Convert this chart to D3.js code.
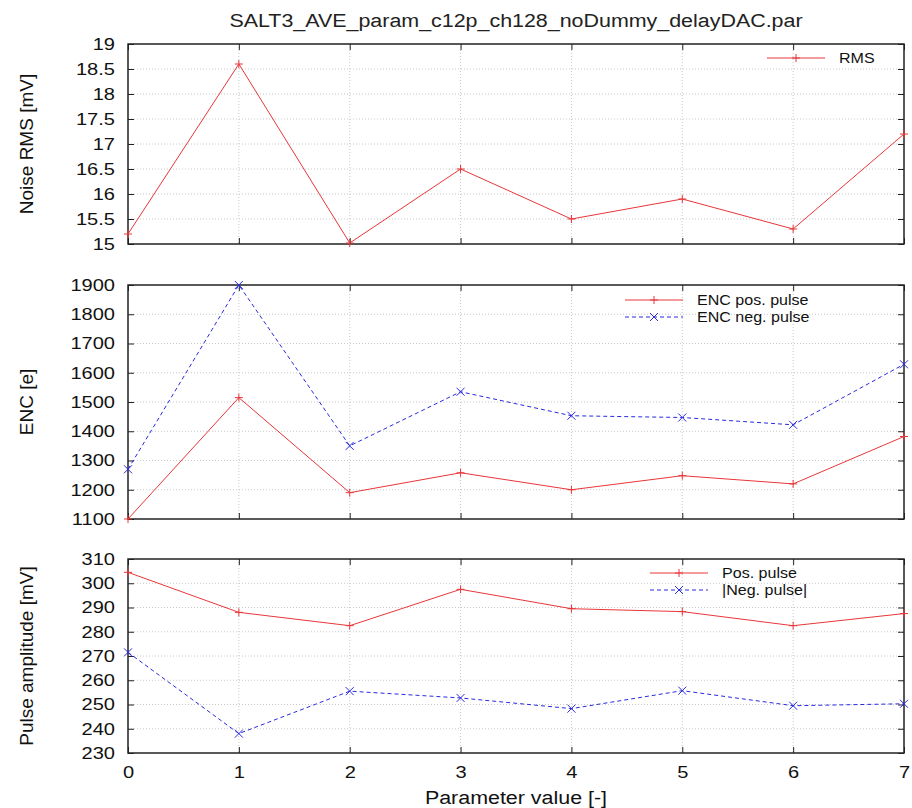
<!DOCTYPE html>
<html><head><meta charset="utf-8">
<script src="https://cdn.jsdelivr.net/npm/d3@7"></script>
<style>body{margin:0;background:#fff}svg{display:block}text{font-family:"Liberation Sans",Arial,sans-serif}</style>
</head><body>
<svg id="c" width="912" height="808"></svg>
<script>
const params = [0,1,2,3,4,5,6,7];
const rms = [15.2,18.6,15.02,16.5,15.5,15.9,15.3,17.2];
const encPos = [1100,1515,1190,1258,1200,1248,1220,1382];
const encNeg = [1270,1900,1350,1535,1453,1447,1422,1629];
const pulsePos = [304.5,288,282.5,297.5,289.5,288.3,282.5,287.5];
const pulseNeg = [271.5,238,255.5,252.7,248.3,255.7,249.5,250.3];
const rmsTicks = [15,15.5,16,16.5,17,17.5,18,18.5,19];
const encTicks = [1100,1200,1300,1400,1500,1600,1700,1800,1900];
const pulseTicks = [230,240,250,260,270,280,290,300,310];
const title = "SALT3_AVE_param_c12p_ch128_noDummy_delayDAC.par";
const xLabel = "Parameter value [-]";

const svg = d3.select("#c");
const L = 128, R = 904;
const x = d3.scaleLinear().domain([0,7]).range([L,R]);

function stretch(sel, k){
  sel.each(function(){
    const l = this.getComputedTextLength();
    if(l>0){ this.setAttribute("textLength", l*k); this.setAttribute("lengthAdjust","spacingAndGlyphs"); }
  });
}

svg.append("text").attr("x",516).attr("y",27).attr("text-anchor","middle")
  .attr("font-size",18).attr("fill","#222").text(title).call(stretch,1.19);

const panels = [
  {top:44,bot:244,dom:[15,19],ticks:rmsTicks,fmt:d=>String(d),label:"Noise RMS [mV]",
   series:[{v:rms,color:"#e8363a",dash:null,sym:"plus",name:"RMS"}],
   legX:767,legY:58,legTx:839},
  {top:285,bot:519,dom:[1100,1900],ticks:encTicks,fmt:d=>String(d),label:"ENC [e]",
   series:[{v:encPos,color:"#e8363a",dash:null,sym:"plus",name:"ENC pos. pulse"},
           {v:encNeg,color:"#2a2ae0",dash:"4,3",sym:"cross",name:"ENC neg. pulse"}],
   legX:625,legY:300,legTx:697},
  {top:559,bot:753,dom:[230,310],ticks:pulseTicks,fmt:d=>String(d),label:"Pulse amplitude [mV]",
   series:[{v:pulsePos,color:"#e8363a",dash:null,sym:"plus",name:"Pos. pulse"},
           {v:pulseNeg,color:"#2a2ae0",dash:"4,3",sym:"cross",name:"|Neg. pulse|"}],
   legX:650,legY:573,legTx:722}
];

function marker(g, cx, cy, sym, color){
  const s = 4;
  if(sym==="plus"){
    g.append("path").attr("d",`M${cx-s},${cy}H${cx+s}M${cx},${cy-s}V${cy+s}`)
     .attr("stroke",color).attr("stroke-width",1);
  } else {
    g.append("path").attr("d",`M${cx-s},${cy-s}L${cx+s},${cy+s}M${cx-s},${cy+s}L${cx+s},${cy-s}`)
     .attr("stroke",color).attr("stroke-width",1);
  }
}

panels.forEach((p,pi)=>{
  const y = d3.scaleLinear().domain(p.dom).range([p.bot,p.top]);
  const g = svg.append("g");
  p.ticks.slice(1,-1).forEach(t=>{
    g.append("line").attr("x1",L).attr("x2",R).attr("y1",y(t)).attr("y2",y(t))
     .attr("stroke","#c8c8c8").attr("stroke-width",1).attr("stroke-dasharray","1,2");
  });
  params.slice(1,-1).forEach(t=>{
    g.append("line").attr("x1",x(t)).attr("x2",x(t)).attr("y1",p.top).attr("y2",p.bot)
     .attr("stroke","#c8c8c8").attr("stroke-width",1).attr("stroke-dasharray","1,2");
  });
  const ay = g.append("g").attr("transform",`translate(${L},0)`)
    .call(d3.axisLeft(y).tickValues(p.ticks).tickFormat(p.fmt).tickSize(-6).tickPadding(13));
  ay.select(".domain").remove();
  ay.selectAll("text").attr("font-size",17).attr("fill","#111").attr("font-family","Liberation Sans, Arial, sans-serif").call(stretch,1.18);
  ay.selectAll("line").attr("stroke","#222");
  const ayr = g.append("g").attr("transform",`translate(${R},0)`)
    .call(d3.axisRight(y).tickValues(p.ticks).tickFormat("").tickSize(-6));
  ayr.select(".domain").remove(); ayr.selectAll("line").attr("stroke","#222");
  const axb = g.append("g").attr("transform",`translate(0,${p.bot})`)
    .call(d3.axisBottom(x).tickValues(params).tickFormat(pi===2?d3.format("d"):"").tickSize(-6).tickPadding(13));
  axb.select(".domain").remove(); axb.selectAll("line").attr("stroke","#222");
  axb.selectAll("text").attr("font-size",17).attr("fill","#111").attr("font-family","Liberation Sans, Arial, sans-serif").call(stretch,1.18);
  const axt = g.append("g").attr("transform",`translate(0,${p.top})`)
    .call(d3.axisTop(x).tickValues(params).tickFormat("").tickSize(-6));
  axt.select(".domain").remove(); axt.selectAll("line").attr("stroke","#222");
  g.append("rect").attr("x",L).attr("y",p.top).attr("width",R-L).attr("height",p.bot-p.top)
   .attr("fill","none").attr("stroke","#222").attr("stroke-width",1.5);
  g.append("text").attr("transform",`translate(33,${(p.top+p.bot)/2}) rotate(-90)`)
   .attr("text-anchor","middle").attr("font-size",19).attr("fill","#111").text(p.label);
  const line = d3.line().x((d,i)=>x(params[i])).y(d=>y(d));
  p.series.forEach((s,si)=>{
    g.append("path").datum(s.v).attr("d",line).attr("fill","none")
     .attr("stroke",s.color).attr("stroke-width",1).attr("stroke-dasharray",s.dash);
    s.v.forEach((v,i)=>marker(g,x(params[i]),y(v),s.sym,s.color));
    const ly = p.legY + si*17;
    g.append("line").attr("x1",p.legX).attr("x2",p.legX+58).attr("y1",ly).attr("y2",ly)
     .attr("stroke",s.color).attr("stroke-width",1).attr("stroke-dasharray",s.dash);
    marker(g,p.legX+29,ly,s.sym,s.color);
    g.append("text").attr("x",p.legTx).attr("y",ly+5).attr("font-size",15).attr("fill","#111").text(s.name).call(stretch,1.07);
  });
});

svg.append("text").attr("x",516).attr("y",804).attr("text-anchor","middle")
  .attr("font-size",18).attr("fill","#111").text(xLabel).call(stretch,1.19);
</script>
</body></html>
